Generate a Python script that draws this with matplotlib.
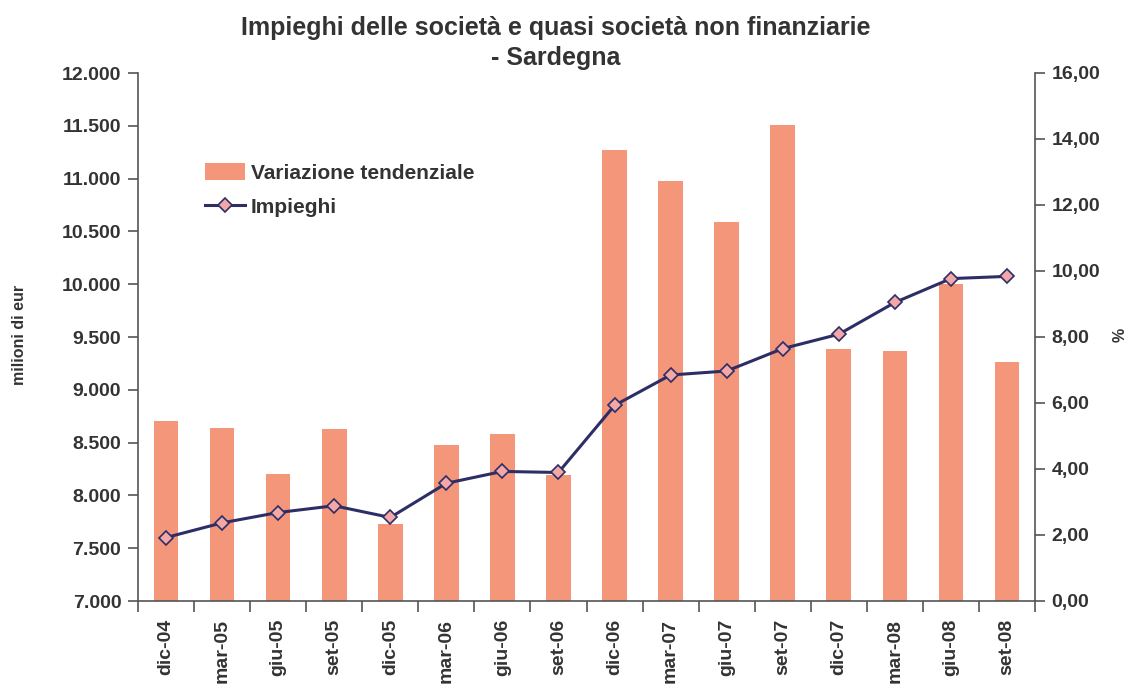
import matplotlib
matplotlib.use("Agg")
import matplotlib.pyplot as plt
from matplotlib.ticker import FuncFormatter
import numpy as np

categories = ["dic-04", "mar-05", "giu-05", "set-05", "dic-05", "mar-06", "giu-06", "set-06",
              "dic-06", "mar-07", "giu-07", "set-07", "dic-07", "mar-08", "giu-08", "set-08"]
variazione = [5.45, 5.25, 3.85, 5.21, 2.34, 4.73, 5.06, 3.82,
              13.67, 12.72, 11.50, 14.42, 7.64, 7.58, 9.61, 7.24]
impieghi = [7601, 7740, 7838, 7902, 7791, 8115, 8227, 8217,
            8852, 9140, 9178, 9390, 9526, 9827, 10053, 10074]

plt.rcParams['font.family'] = ['Liberation Sans', 'DejaVu Sans']
plt.rcParams['font.weight'] = 'bold'
TXT = '#333333'
AX = '#555555'

fig = plt.figure(figsize=(11.3, 6.86), dpi=100)
ax = fig.add_axes([138/1130, 1-601/686, (1035-138)/1130, (601-73)/686])
ax2 = ax.twinx()
ax.set_zorder(ax2.get_zorder() + 1)
ax.patch.set_visible(False)

x = np.arange(len(categories))
ax2.bar(x, variazione, width=0.44, color='#F4967A', zorder=1, label='Variazione tendenziale')
ax.plot(x, impieghi, color='#2E2E66', lw=2.2, marker='D', markersize=7.5,
        markerfacecolor='#F4A7A7', markeredgecolor='#2E2E66', markeredgewidth=1.2,
        label='Impieghi', zorder=3)

ax.set_xlim(-0.5, len(categories) - 0.5)
ax.set_ylim(7000, 12000)
ax2.set_ylim(0, 16)
ax.set_yticks(np.arange(7000, 12001, 500))
ax2.set_yticks(np.arange(0, 16.1, 2))
ax.yaxis.set_major_formatter(FuncFormatter(lambda v, p: f"{int(v):,}".replace(",", ".")))
ax2.yaxis.set_major_formatter(FuncFormatter(lambda v, p: f"{v:.2f}".replace(".", ",")))

ax.set_xticks(x)
ax.set_xticklabels(categories, rotation=90, fontsize=14, fontweight='bold', color=TXT)
ax.set_xticks(np.arange(-0.5, len(categories), 1), minor=True)
ax.tick_params(axis='x', which='major', length=0, pad=13)
ax.tick_params(axis='x', which='minor', length=8, color=AX, width=1.2)
ax.tick_params(axis='y', labelsize=14, colors=TXT, length=7, width=1.2, color=AX, pad=5)
ax2.tick_params(axis='y', labelsize=14, colors=TXT, length=7, width=1.2, color=AX, pad=5)
for lab in ax.get_yticklabels() + ax2.get_yticklabels():
    lab.set_fontweight('bold')

for a in (ax, ax2):
    a.spines['top'].set_visible(False)
    for s in ('left', 'right', 'bottom'):
        a.spines[s].set_color(AX)
        a.spines[s].set_linewidth(1.2)
ax.spines['right'].set_visible(False)
ax2.spines['left'].set_visible(False)
ax2.spines['bottom'].set_visible(False)

fig.text(20/1130, 1-335/686, 'milioni di eur', rotation=90, ha='center', va='center',
         fontsize=11.5, fontweight='bold', color=TXT)
fig.text(1120/1130, 1-335/686, '%', rotation=90, ha='center', va='center',
         fontsize=11.5, fontweight='bold', color=TXT)

fig.text(556/1130, 1-43/686, 'Impieghi delle società e quasi società non finanziarie\n- Sardegna',
         ha='center', va='center', fontsize=18, fontweight='bold', color=TXT, linespacing=1.3)

h1, l1 = ax2.get_legend_handles_labels()
h2, l2 = ax.get_legend_handles_labels()
leg = fig.legend(h1 + h2, l1 + l2, loc='upper left', bbox_to_anchor=(186/1130, 1-144/686),
                 frameon=False, fontsize=15, handlelength=1.95, handleheight=0.9,
                 labelspacing=0.7, handletextpad=0.25)
for t in leg.get_texts():
    t.set_color(TXT)
    t.set_fontweight('bold')

fig.savefig('out.png', dpi=100)
